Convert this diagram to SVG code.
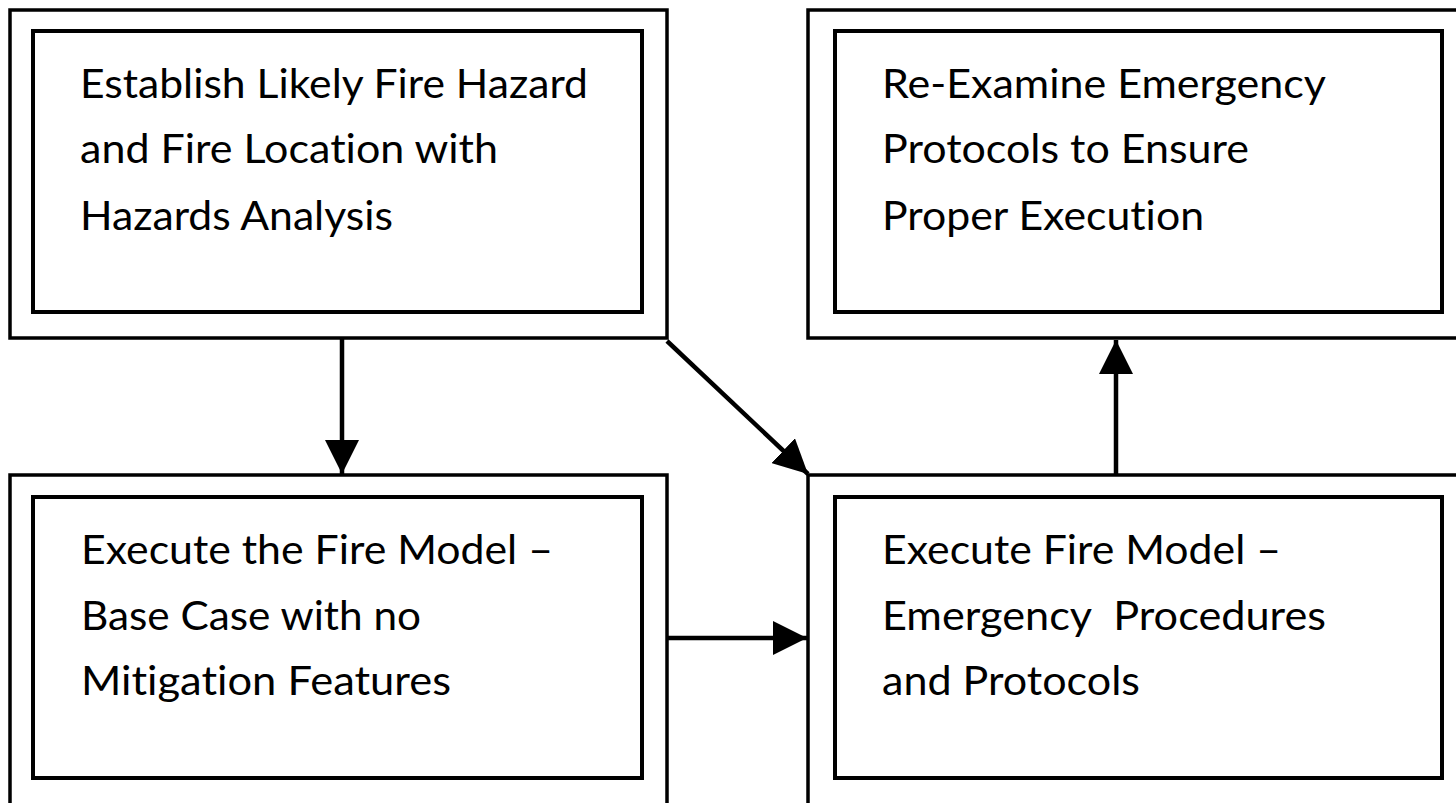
<svg xmlns="http://www.w3.org/2000/svg" width="1456" height="803" viewBox="0 0 1456 803">
<style>
.outer{fill:none;stroke:#000;stroke-width:3.5}
.inner{fill:none;stroke:#000;stroke-width:4}
.lbl{font-family:Lato,"Open Sans","Liberation Sans",sans-serif;font-size:40px;fill:#000;white-space:pre;font-variant-ligatures:none;font-feature-settings:"liga" 0,"dlig" 0}
.conn{stroke:#000;stroke-width:4.5;fill:none}
</style>
<defs>
<marker id="ah" markerUnits="userSpaceOnUse" markerWidth="34" markerHeight="34" viewBox="0 0 34 34" refX="34" refY="17" orient="auto">
<path d="M0,0 L34,17 L0,34 Z" fill="#000"/>
</marker>
</defs>
<rect width="1456" height="803" fill="#fff"/>
<g id="node-establish">
<rect class="outer" x="10" y="10" width="657" height="328"/>
<rect class="inner" x="33" y="31" width="609" height="281"/>
<text class="lbl" x="80" y="98" textLength="508" lengthAdjust="spacingAndGlyphs">Establish Likely Fire Hazard</text>
<text class="lbl" x="80" y="163" textLength="418" lengthAdjust="spacingAndGlyphs">and Fire Location with</text>
<text class="lbl" x="80" y="230" textLength="313" lengthAdjust="spacingAndGlyphs">Hazards Analysis</text>
</g>
<g id="node-reexamine">
<path class="outer" d="M1460,10 L808,10 L808,338 L1460,338"/>
<rect class="inner" x="835" y="31" width="607" height="281"/>
<text class="lbl" x="882" y="98" textLength="444" lengthAdjust="spacingAndGlyphs">Re-Examine Emergency</text>
<text class="lbl" x="882" y="163" textLength="367" lengthAdjust="spacingAndGlyphs">Protocols to Ensure</text>
<text class="lbl" x="882" y="230" textLength="322" lengthAdjust="spacingAndGlyphs">Proper Execution</text>
</g>
<g id="node-basecase">
<path class="outer" d="M10,810 L10,475 L667,475 L667,810"/>
<rect class="inner" x="33" y="497" width="609" height="281"/>
<text class="lbl" x="81" y="564" textLength="472" lengthAdjust="spacingAndGlyphs">Execute the Fire Model –</text>
<text class="lbl" x="81" y="630" textLength="340" lengthAdjust="spacingAndGlyphs">Base Case with no</text>
<text class="lbl" x="81" y="695" textLength="370" lengthAdjust="spacingAndGlyphs">Mitigation Features</text>
</g>
<g id="node-emergency">
<path class="outer" d="M808,810 L808,475 L1460,475"/>
<rect class="inner" x="835" y="497" width="607" height="281"/>
<text class="lbl" x="882" y="564" textLength="399" lengthAdjust="spacingAndGlyphs">Execute Fire Model –</text>
<text class="lbl" x="882" y="630" xml:space="preserve" textLength="444" lengthAdjust="spacingAndGlyphs">Emergency  Procedures</text>
<text class="lbl" x="882" y="695" textLength="258" lengthAdjust="spacingAndGlyphs">and Protocols</text>
</g>
<g id="connectors">
<line class="conn" x1="342" y1="338" x2="342" y2="474" marker-end="url(#ah)"/>
<line class="conn" x1="667" y1="341" x2="808" y2="474" marker-end="url(#ah)"/>
<line class="conn" x1="667" y1="638" x2="807" y2="638" marker-end="url(#ah)"/>
<line class="conn" x1="1116" y1="475" x2="1116" y2="340" marker-end="url(#ah)"/>
</g>
</svg>
